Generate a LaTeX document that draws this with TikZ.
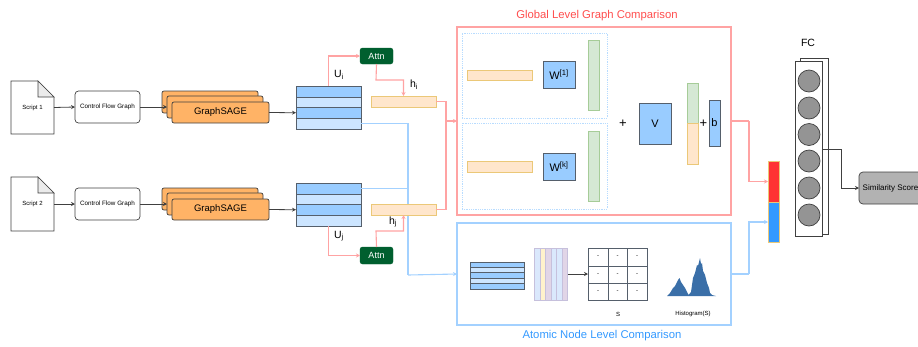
\documentclass[tikz,border=0pt]{standalone}
\usepackage{fontspec}
\setmainfont{Liberation Sans}
\usetikzlibrary{arrows.meta}
\definecolor{redl}{HTML}{FFA3A3}
\definecolor{bluel}{HTML}{A3D1FF}
\definecolor{dashl}{HTML}{B8DCFF}
\definecolor{darkl}{HTML}{404040}
\definecolor{peach}{HTML}{FFE6CC}
\definecolor{peachl}{HTML}{EBC878}
\definecolor{greenf}{HTML}{D5E8D4}
\definecolor{greenl}{HTML}{A6CC98}
\definecolor{blued}{HTML}{99CCFF}
\definecolor{bluep}{HTML}{CCE5FF}
\definecolor{orangef}{HTML}{FFB366}
\definecolor{attnf}{HTML}{005F2F}
\definecolor{gridl}{HTML}{555F6B}
\definecolor{histc}{HTML}{3A6FA8}
\definecolor{cpb}{HTML}{DAE8FC}
\definecolor{cpy}{HTML}{FFF2CC}
\definecolor{cpp}{HTML}{E1D5E7}
\definecolor{colb}{HTML}{C6C0DC}
\definecolor{redbar}{HTML}{FF3333}
\definecolor{bluebar}{HTML}{3399FF}
\definecolor{titler}{HTML}{FF4D4D}
\definecolor{titleb}{HTML}{3399FF}
\newcommand{\bx}[7][]{%
  \pgfmathsetmacro{\cxx}{(#4+#6)/2}\pgfmathsetmacro{\cyy}{(#5+#7)/2}%
  \pgfmathsetmacro{\www}{#6-#4}\pgfmathsetmacro{\hhh}{#7-#5}%
  \node[#2,minimum width=\www pt,minimum height=\hhh pt] (#3) at (\cxx,\cyy) {#1};}
\tikzset{
  x=1pt,y=-1pt,
  every node/.style={inner sep=0pt,outer sep=0pt},
  tip/.style={-{Stealth[length=4pt,width=4pt]}},
  flow/.style={draw=darkl,line width=.8pt,tip},
  redflow/.style={draw=redl,line width=1.1pt},
  blueflow/.style={draw=bluel,line width=1.1pt},
  docbox/.style={rectangle},
  cfg/.style={draw=darkl,fill=white,rounded corners=3.5pt,line width=.7pt,font=\fontsize{6.3}{7}\selectfont},
  sage/.style={draw=darkl,fill=orangef,rounded corners=2pt,line width=.7pt,font=\fontsize{9.5}{12}\selectfont},
  rowd/.style={draw=gridl,fill=blued,line width=.9pt},
  rowl/.style={draw=gridl,fill=bluep,line width=.9pt},
  attn/.style={draw=attnf,fill=attnf,rounded corners=2.5pt,text=white,font=\fontsize{9}{10}\selectfont},
  hbar/.style={draw=peachl,fill=peach,line width=.9pt},
  gbar/.style={draw=greenl,fill=greenf,line width=.9pt},
  mat/.style={draw=gridl,fill=blued,line width=.9pt,font=\fontsize{11}{12}\selectfont},
  panelr/.style={draw=redl,line width=1.1pt,fill=white},
  panelb/.style={draw=bluel,line width=1.1pt,fill=white},
  dashbox/.style={draw=dashl,densely dotted,line width=.8pt},
  cell/.style={draw=gridl,line width=.8pt,font=\fontsize{6}{7}\selectfont},
  neuron/.style={circle,draw=darkl,fill=black!42,line width=.7pt,minimum size=22pt},
  lab/.style={font=\fontsize{10.5}{12}\selectfont},
  tinytext/.style={font=\fontsize{6}{7}\selectfont},
}
\begin{document}
\begin{tikzpicture}
\useasboundingbox (0,0) rectangle (918,346);
\clip (0,0) rectangle (918,346);

% scripts
\bx[Script 1]{docbox,tinytext}{s1}{11}{81}{54}{134}
\bx[Script 2]{docbox,tinytext}{s2}{11}{177}{54}{231}
\foreach \n in {s1,s2}{
  \draw[draw=darkl,line width=.7pt] (\n.north west) -- ([xshift=-16pt]\n.north east) -- ([yshift=-16pt]\n.north east) -- (\n.south east) -- (\n.south west) -- cycle;
  \draw[draw=darkl,fill=black!8,line width=.7pt] ([xshift=-16pt]\n.north east) -- ([xshift=-16pt,yshift=-16pt]\n.north east) -- ([yshift=-16pt]\n.north east) -- cycle;
}
% control flow graphs
\bx[Control Flow Graph]{cfg}{c1}{75}{91}{140}{123}
\bx[Control Flow Graph]{cfg}{c2}{75}{188}{140}{220}
% GraphSAGE stacks
\bx{sage}{ga1}{162}{91}{258}{113}
\bx{sage}{gb1}{167}{96}{263}{118}
\bx{sage}{ga2}{162}{188}{258}{210}
\bx{sage}{gb2}{167}{193}{263}{215}
\draw[flow] (s1.east) -- (c1.west);
\draw[flow] (s2.east) -- (c2.west);
\draw[flow] (c1.east) -- (gb1.west);
\draw[flow] (c2.east) -- (gb2.west);
\bx[GraphSAGE]{sage}{gc1}{172}{102}{269}{123}
\bx[GraphSAGE]{sage}{gc2}{172}{199}{269}{220}
% tables
\bx{rowd}{ta}{296}{86}{361}{97}
\bx{rowl}{tb}{296}{97}{361}{107.5}
\bx{rowd}{tc}{296}{107.5}{361}{118}
\bx{rowl}{td}{296}{118}{361}{129}
\bx{rowd}{ua}{296}{183}{361}{194}
\bx{rowl}{ub}{296}{194}{361}{204.5}
\bx{rowd}{uc}{296}{204.5}{361}{215}
\bx{rowl}{ud}{296}{215}{361}{226}
\draw[flow] (gc1.east) -- (tc.west);
\draw[flow] (gc2.east) -- (uc.west);
% panels
\bx{panelr}{global}{457}{27}{731}{215}
\bx{panelb}{atomic}{457}{223}{731}{325}
\node[text=titler,font=\fontsize{11.3}{13}\selectfont] (gt) at (597,16) {Global Level Graph Comparison};
\node[text=titleb,font=\fontsize{11.3}{13}\selectfont] (at) at (602,336) {Atomic Node Level Comparison};
% blue trunk
\coordinate (blueJ) at (408,275);
\coordinate (redJ) at (446,121);
\draw[blueflow] (td.east) -| (blueJ);
\draw[blueflow] (ua.east) -- (ua.east -| blueJ);
\draw[blueflow,tip] (blueJ) -- (atomic.west);
% attention
\bx[Attn]{attn}{a1}{360}{48}{393}{64}
\bx[Attn]{attn}{a2}{360}{247}{393}{264}
\bx{hbar}{h1}{371}{96}{436}{107}
\bx{hbar}{h2}{371}{204}{436}{215}
\draw[redflow,tip] (ta.north) |- (a1.west);
\draw[redflow,tip] (ud.south) |- (a2.west);
\coordinate (k1) at (376,80);
\coordinate (k2) at (376,231);
\draw[redflow,tip] (a1.south) -- (k1) -| (h1.north);
\draw[redflow,tip] (a2.north) -- (k2) -| (h2.south);
\draw[redflow] (h1.east) -| (redJ);
\draw[redflow] (h2.east) -| (redJ);
\draw[redflow,tip] (redJ) -- (global.west);
\node[lab] (ui) at (339,75) {U\textsubscript{i}};
\node[lab] (uj) at (339,236) {U\textsubscript{j}};
\node[lab] (hi) at (414,85) {h\textsubscript{i}};
\node[lab] (hj) at (393,222) {h\textsubscript{j}};
% global panel
\bx{dashbox}{d1}{462}{33}{607}{118}
\bx{dashbox}{d2}{462}{123}{607}{209}
\bx{hbar}{p1}{467}{70}{532}{80}
\bx{hbar}{p2}{467}{161}{532}{172}
\bx[W\textsuperscript{[1]}]{mat}{w1}{543}{61}{575}{88}
\bx[W\textsuperscript{[k]}]{mat}{w2}{543}{153}{575}{180}
\bx{gbar}{g1}{588}{40}{599}{110}
\bx{gbar}{g2}{588}{131}{599}{201}
\node[font=\fontsize{13}{14}\selectfont] (pl1) at (623,124) {+};
\bx[V]{mat}{v}{639}{103}{671}{144}
\bx{gbar}{cg}{687.5}{83}{698.5}{123.5}
\bx{hbar}{cp}{687.5}{123.5}{698.5}{164}
\node[font=\fontsize{13}{14}\selectfont] (pl2) at (703.5,124) {+};
\bx[b]{mat}{bb}{709}{100}{720}{146}
% atomic panel
\foreach \i/\st/\ya/\yb in {1/rowd/262/267.4,2/rowl/267.4/272.8,3/rowd/272.8/278.2,4/rowl/278.2/283.6,5/rowd/283.6/289}{
  \bx{\st}{m\i}{470}{\ya}{524}{\yb}
}
\foreach \i/\f/\xa/\xb in {1/cpb/534.5/540,2/cpy/540/545.5,3/cpp/545.5/551,4/cpb/551/556.5,5/cpb/556.5/562,6/cpp/562/567.5}{
  \bx{draw=colb,line width=.6pt,fill=\f}{col\i}{\xa}{248}{\xb}{300}
}
\foreach \r/\ya/\yb in {1/248/266,2/266/283,3/283/300}{
  \foreach \c/\xa/\xb in {1/588/608,2/608/627,3/627/647}{
    \bx[-]{cell}{g\r\c}{\xa}{\ya}{\xb}{\yb}
  }
}
\coordinate (colout) at (567.5,274);
\draw[flow] (colout) -- (colout -| g21.west);
\node[tinytext] (sl) at (618,314) {S};
\node[tinytext] (hl) at (693,314) {Histogram(S)};
\fill[histc] (667,296) -- (670,293) -- (673,288) -- (675,286) -- (677,282) -- (678,280) -- (679.5,278) -- (681,282) -- (683,285) -- (685,288) -- (687,292) -- (688.5,295) -- (691,292) -- (693,278) -- (695,273) -- (697,265) -- (698,266) -- (699,262) -- (700,258) -- (701,264) -- (702,263) -- (703,271) -- (705,275) -- (707,283) -- (709,288) -- (710,293) -- (712,295) -- (716,296) -- cycle;
% merged bar
\bx{draw=peachl,fill=redbar,line width=.7pt}{mr}{768}{161}{779}{202}
\bx{draw=peachl,fill=bluebar,line width=.7pt}{mb}{768}{202}{779}{242}
\coordinate (ro) at (749,121);
\coordinate (bo) at (749,274);
\draw[redflow] (global.east) -- (ro);
\draw[redflow,tip] (ro) |- (mr.west);
\draw[blueflow] (atomic.east) -- (bo);
\draw[blueflow,tip] (bo) |- (mb.west);
% FC
\bx{draw=darkl,line width=.7pt}{fb}{800}{58}{828}{234}
\bx{draw=darkl,fill=white,line width=.7pt}{ff}{795}{61.5}{822}{236.5}
\foreach \i/\y in {1/81,2/108,3/134.5,4/161,5/188,6/215}{
  \node[neuron] (n\i) at (809,\y) {};
}
\node[lab] (fc) at (808,43) {FC};
\bx[Similarity Score]{draw=darkl,fill=black!30,rounded corners=4pt,line width=.7pt,font=\fontsize{8}{10}\selectfont}{sim}{859}{172}{922}{204}
\coordinate (fk) at (841,149);
\draw[flow] (ff.east |- fk) -- (fk) |- (sim.west);
\end{tikzpicture}
\end{document}
